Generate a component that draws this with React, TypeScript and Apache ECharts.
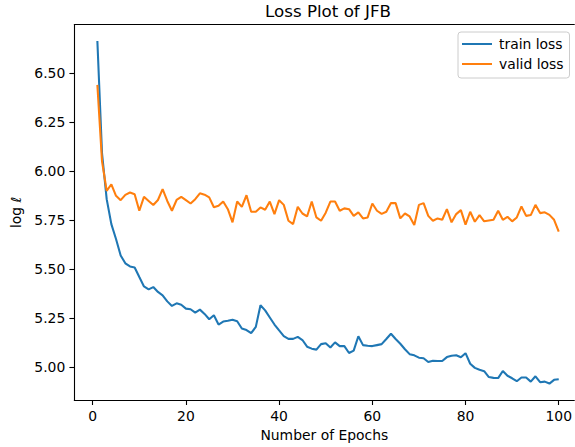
import React, { useEffect, useRef } from "react";
import * as echarts from "echarts";

const trainLoss = [
  6.663, 6.09, 5.857, 5.73, 5.654, 5.57, 5.53, 5.514, 5.509, 5.46,
  5.412, 5.397, 5.409, 5.384, 5.367, 5.336, 5.313, 5.326, 5.319, 5.299,
  5.296, 5.279, 5.294, 5.272, 5.245, 5.265, 5.218, 5.233, 5.237, 5.242,
  5.235, 5.198, 5.19, 5.174, 5.206, 5.316, 5.29, 5.254, 5.218, 5.188,
  5.159, 5.145, 5.145, 5.155, 5.139, 5.105, 5.095, 5.09, 5.118, 5.123,
  5.101, 5.127, 5.108, 5.108, 5.073, 5.085, 5.158, 5.113, 5.11, 5.108,
  5.113, 5.118, 5.144, 5.171, 5.144, 5.12, 5.092, 5.067, 5.061, 5.049,
  5.046, 5.027, 5.033, 5.032, 5.032, 5.052, 5.059, 5.061, 5.051, 5.072,
  5.018, 4.997, 4.987, 4.98, 4.95, 4.946, 4.945, 4.981, 4.957, 4.944,
  4.929, 4.948, 4.948, 4.927, 4.954, 4.924, 4.927, 4.917, 4.936, 4.939,
];

const validLoss = [
  6.44, 6.05, 5.899, 5.933, 5.874, 5.852, 5.879, 5.891, 5.882, 5.798,
  5.869, 5.848, 5.827, 5.853, 5.908, 5.848, 5.798, 5.853, 5.869, 5.852,
  5.835, 5.857, 5.887, 5.88, 5.866, 5.816, 5.823, 5.845, 5.806, 5.739,
  5.845, 5.818, 5.877, 5.793, 5.793, 5.815, 5.803, 5.845, 5.781, 5.852,
  5.828, 5.747, 5.73, 5.818, 5.784, 5.769, 5.845, 5.764, 5.747, 5.788,
  5.845, 5.845, 5.798, 5.81, 5.806, 5.772, 5.79, 5.759, 5.764, 5.835,
  5.798, 5.782, 5.793, 5.837, 5.837, 5.759, 5.784, 5.769, 5.725, 5.828,
  5.837, 5.772, 5.747, 5.759, 5.752, 5.806, 5.739, 5.781, 5.801, 5.727,
  5.793, 5.742, 5.776, 5.744, 5.748, 5.752, 5.798, 5.752, 5.767, 5.744,
  5.764, 5.82, 5.772, 5.776, 5.828, 5.786, 5.79, 5.777, 5.752, 5.691,
];

const xTicks = [0, 20, 40, 60, 80, 100];
const yTicks = [5.0, 5.25, 5.5, 5.75, 6.0, 6.25, 6.5];

const FONT = "DejaVu Sans";

export default function App() {
  const ref = useRef<HTMLDivElement>(null);

  useEffect(() => {
    if (!ref.current) return;
    const chart = echarts.init(ref.current, undefined, { renderer: "svg" });
    const trainData = trainLoss.map((v, i) => [i + 1, v]);
    const validData = validLoss.map((v, i) => [i + 1, v]);
    const xMin = -3.95;
    const xMax = 103.34;
    const yMin = 4.8327;
    const yMax = 6.7465;
    const axisLineStyle = { color: "#000", width: 1.1 };
    chart.setOption({
      animation: false,
      backgroundColor: "#fff",
      title: {
        text: "Loss Plot of JFB",
        left: 328,
        top: 2,
        padding: 0,
        textAlign: "center",
        textStyle: { fontFamily: FONT, fontSize: 16.7, fontWeight: "normal", color: "#000" },
      },
      legend: {
        orient: "vertical",
        left: 458,
        top: 32,
        padding: [2, 6, 4, 4],
        itemGap: 0,
        itemWidth: 30,
        itemHeight: 2,
        icon: "rect",
        backgroundColor: "rgba(255,255,255,0.8)",
        borderColor: "#cccccc",
        borderWidth: 1,
        borderRadius: 3,
        textStyle: { fontFamily: FONT, fontSize: 13.9, color: "#000", lineHeight: 20, padding: [0, 0, 0, 2] },
        data: ["train loss", "valid loss"],
      },
      grid: { left: 74.3, right: 0, top: 24.7, bottom: 45, containLabel: false },
      xAxis: [
        {
          type: "value",
          min: xMin,
          max: xMax,
          axisLine: { show: true, onZero: false, lineStyle: axisLineStyle },
          splitLine: { show: false },
          axisTick: { show: true, length: 4.9, lineStyle: axisLineStyle, customValues: xTicks },
          axisLabel: {
            customValues: xTicks,
            margin: 9,
            fontFamily: FONT,
            fontSize: 13.9,
            color: "#000",
            formatter: (v: number) => String(v),
          },
          name: "Number of Epochs",
          nameLocation: "middle",
          nameGap: 27,
          nameTextStyle: { fontFamily: FONT, fontSize: 13.9, color: "#000" },
        },
        {
          type: "value",
          position: "top",
          min: xMin,
          max: xMax,
          axisLine: { show: true, onZero: false, lineStyle: axisLineStyle },
          axisTick: { show: false },
          axisLabel: { show: false },
          splitLine: { show: false },
        },
      ],
      yAxis: {
        type: "value",
        min: yMin,
        max: yMax,
        axisLine: { show: true, onZero: false, lineStyle: axisLineStyle },
        splitLine: { show: false },
        axisTick: { show: true, length: 4.9, lineStyle: axisLineStyle, customValues: yTicks },
        axisLabel: {
          customValues: yTicks,
          margin: 9,
          fontFamily: FONT,
          fontSize: 13.9,
          color: "#000",
          formatter: (v: number) => v.toFixed(2),
        },
        name: "log ℓ",
        nameLocation: "middle",
        nameGap: 44,
        nameTextStyle: { fontFamily: FONT, fontSize: 13.9, color: "#000" },
      },
      series: [
        {
          name: "train loss",
          type: "line",
          data: trainData,
          symbol: "none",
          itemStyle: { color: "#1f77b4" },
          lineStyle: { color: "#1f77b4", width: 2.08 },
        },
        {
          name: "valid loss",
          type: "line",
          data: validData,
          symbol: "none",
          itemStyle: { color: "#ff7f0e" },
          lineStyle: { color: "#ff7f0e", width: 2.08 },
        },
      ],
    });
    return () => chart.dispose();
  }, []);

  return (
    <div
      ref={ref}
      style={{ position: "fixed", left: 0, top: 0, width: 575, height: 447, background: "#fff" }}
    />
  );
}
